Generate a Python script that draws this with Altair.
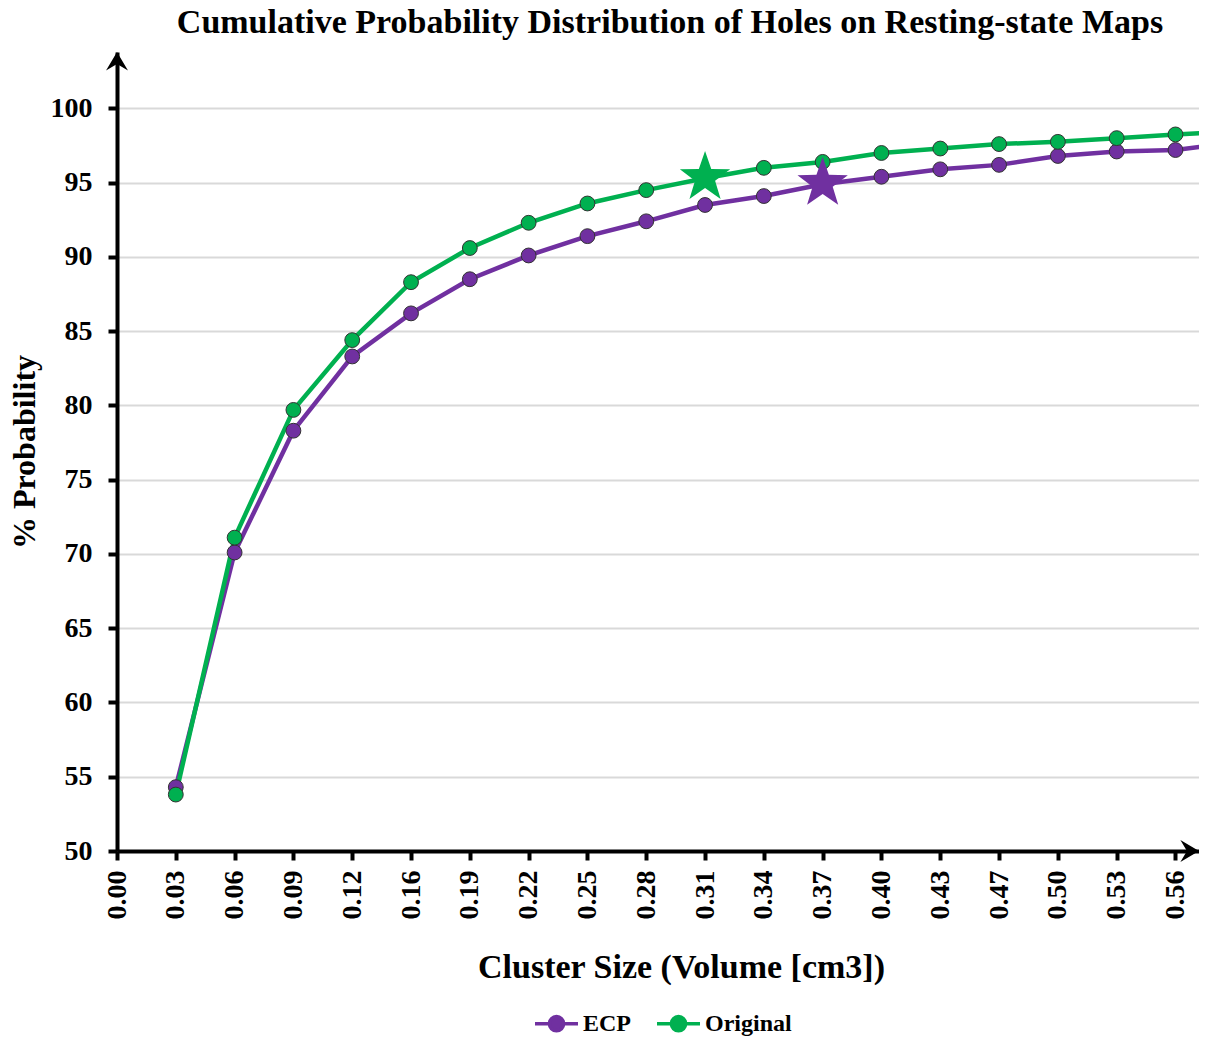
import math
import altair as alt
import pandas as pd

# ---- data ----
size_labels = ['0.00', '0.03', '0.06', '0.09', '0.12', '0.16', '0.19', '0.22', '0.25', '0.28',
               '0.31', '0.34', '0.37', '0.40', '0.43', '0.47', '0.50', '0.53', '0.56', '0.59']
ecp = [None, 54.3, 70.1, 78.3, 83.3, 86.2, 88.5, 90.1, 91.4, 92.4,
       93.5, 94.1, 94.9, 95.4, 95.9, 96.2, 96.8, 97.1, 97.2, 97.7]
original = [None, 53.8, 71.1, 79.7, 84.4, 88.3, 90.6, 92.3, 93.6, 94.5,
            95.3, 96.0, 96.4, 97.0, 97.3, 97.6, 97.75, 98.0, 98.25, 98.45]
series_names = ['ECP', 'Original']
series_colors = ['#7030A0', '#00B050']

star_series = ['Original', 'ECP']
star_index = [10, 12]
star_value = [95.35, 94.95]

y_ticks = [50, 55, 60, 65, 70, 75, 80, 85, 90, 95, 100]

FONT = 'Liberation Serif'

rows = []
for i, lab in enumerate(size_labels):
    for name, vals in zip(series_names, [ecp, original]):
        if vals[i] is not None:
            rows.append({'idx': i, 'label': lab, 'series': name, 'value': vals[i]})
df = pd.DataFrame(rows)
stars = pd.DataFrame({'idx': star_index, 'series': star_series, 'value': star_value})

X_MAX = 18.4
Y_MAX = 103.8

label_expr = '[' + ','.join("'" + s + "'" for s in size_labels) + '][datum.value]'

x_enc = alt.X('idx:Q',
              scale=alt.Scale(domain=[0, X_MAX], nice=False, zero=False),
              axis=alt.Axis(values=list(range(19)), labelExpr=label_expr,
                            title='Cluster Size (Volume [cm3])',
                            labelAngle=270, labelAlign='right', labelBaseline='middle',
                            labelPadding=10, labelFontSize=28, labelFont=FONT,
                            labelFontWeight='bold', labelColor='black',
                            labelOverlap=False, labelFlush=False,
                            tickColor='black', tickWidth=4, tickSize=9,
                            domainColor='black', domainWidth=4, grid=False,
                            titleFont=FONT, titleFontSize=34, titleFontWeight='bold',
                            titleColor='black', titleX=564, titleY=126,
                            titleAlign='center', titleBaseline='alphabetic'))
y_enc = alt.Y('value:Q',
              scale=alt.Scale(domain=[50, Y_MAX], nice=False, zero=False),
              axis=alt.Axis(values=y_ticks, title='% Probability',
                            labelPadding=16, labelFontSize=28, labelFont=FONT,
                            labelFontWeight='bold', labelColor='black',
                            labelBaseline='middle',
                            tickColor='black', tickWidth=4, tickSize=9,
                            domainColor='black', domainWidth=4,
                            grid=True, gridColor='#d9d9d9', gridWidth=2,
                            titleFont=FONT, titleFontSize=32, titleFontWeight='bold',
                            titleColor='black', titleX=-83, titleY=399.5,
                            titleAngle=270, titleAlign='center',
                            titleBaseline='alphabetic'))

scale = alt.Scale(domain=series_names, range=series_colors)

# legend glyph: a short line with a dot in the middle (polygon circle)
rr = 0.33
poly = ['%.3f,%.3f' % (rr * math.cos(2 * math.pi * k / 16), rr * math.sin(2 * math.pi * k / 16))
        for k in range(17)]
legend_path = 'M-1,0L-0.33,0M0.33,0L1,0M' + 'L'.join(poly)

# five-pointed star glyph (unit box -1..1)
star_pts = []
for k in range(10):
    rad = 1.0 if k % 2 == 0 else 0.40
    ang = -math.pi / 2 + k * math.pi / 5
    star_pts.append('%.3f,%.3f' % (rad * math.cos(ang), rad * math.sin(ang)))
star_pts.append(star_pts[0])
star_path = 'M' + 'L'.join(star_pts)

legend = alt.Legend(orient='none', legendX=416, legendY=948, direction='horizontal',
                    title=None, symbolType=legend_path, symbolSize=1849,
                    symbolStrokeWidth=3.5, labelFont=FONT, labelFontSize=24,
                    labelFontWeight='bold', labelColor='black', labelOffset=3,
                    columnPadding=19, padding=0)

lines = alt.Chart(df).mark_line(strokeWidth=4.5, clip=True).encode(
    x=x_enc, y=y_enc,
    color=alt.Color('series:N', scale=scale, legend=legend),
    order='idx:Q')

points = alt.Chart(df).mark_point(filled=True, size=220, stroke='#333333', strokeWidth=1,
                                  opacity=1, clip=True).encode(
    x='idx:Q', y='value:Q',
    fill=alt.Fill('series:N', scale=scale, legend=legend))

star_layer = alt.Chart(stars).mark_point(shape=star_path, filled=True, size=2800, opacity=1,
                                         strokeWidth=0).encode(
    x='idx:Q', y='value:Q',
    fill=alt.Fill('series:N', scale=scale, legend=legend))

arrow_up = alt.Chart(pd.DataFrame({'k': [0]})).mark_point(
    shape='M0,0L1,1.7L0,1.1L-1,1.7L0,0', filled=True, color='black', size=480,
    opacity=1, strokeWidth=0).encode(x=alt.datum(0), y=alt.datum(Y_MAX))

arrow_right = alt.Chart(pd.DataFrame({'k': [0]})).mark_point(
    shape='M0,0L-1.7,-1L-1.1,0L-1.7,1L0,0', filled=True, color='black', size=480,
    opacity=1, strokeWidth=0).encode(x=alt.datum(X_MAX), y=alt.datum(50))

chart = alt.layer(lines, points, star_layer, arrow_up, arrow_right).properties(
    width=1082, height=799, background='white',
    title=alt.TitleParams('Cumulative Probability Distribution of Holes on Resting-state Maps',
                          anchor='middle', frame='group', dx=12, dy=34, offset=19,
                          baseline='alphabetic',
                          font=FONT, fontSize=34, fontWeight='bold', color='black'),
    autosize=alt.AutoSizeParams(type='none'),
    padding={'left': 109, 'top': 44, 'right': 0, 'bottom': 186}
).configure_view(stroke=None)

chart.save('out.html', embed_options={'renderer': 'svg', 'actions': False})
